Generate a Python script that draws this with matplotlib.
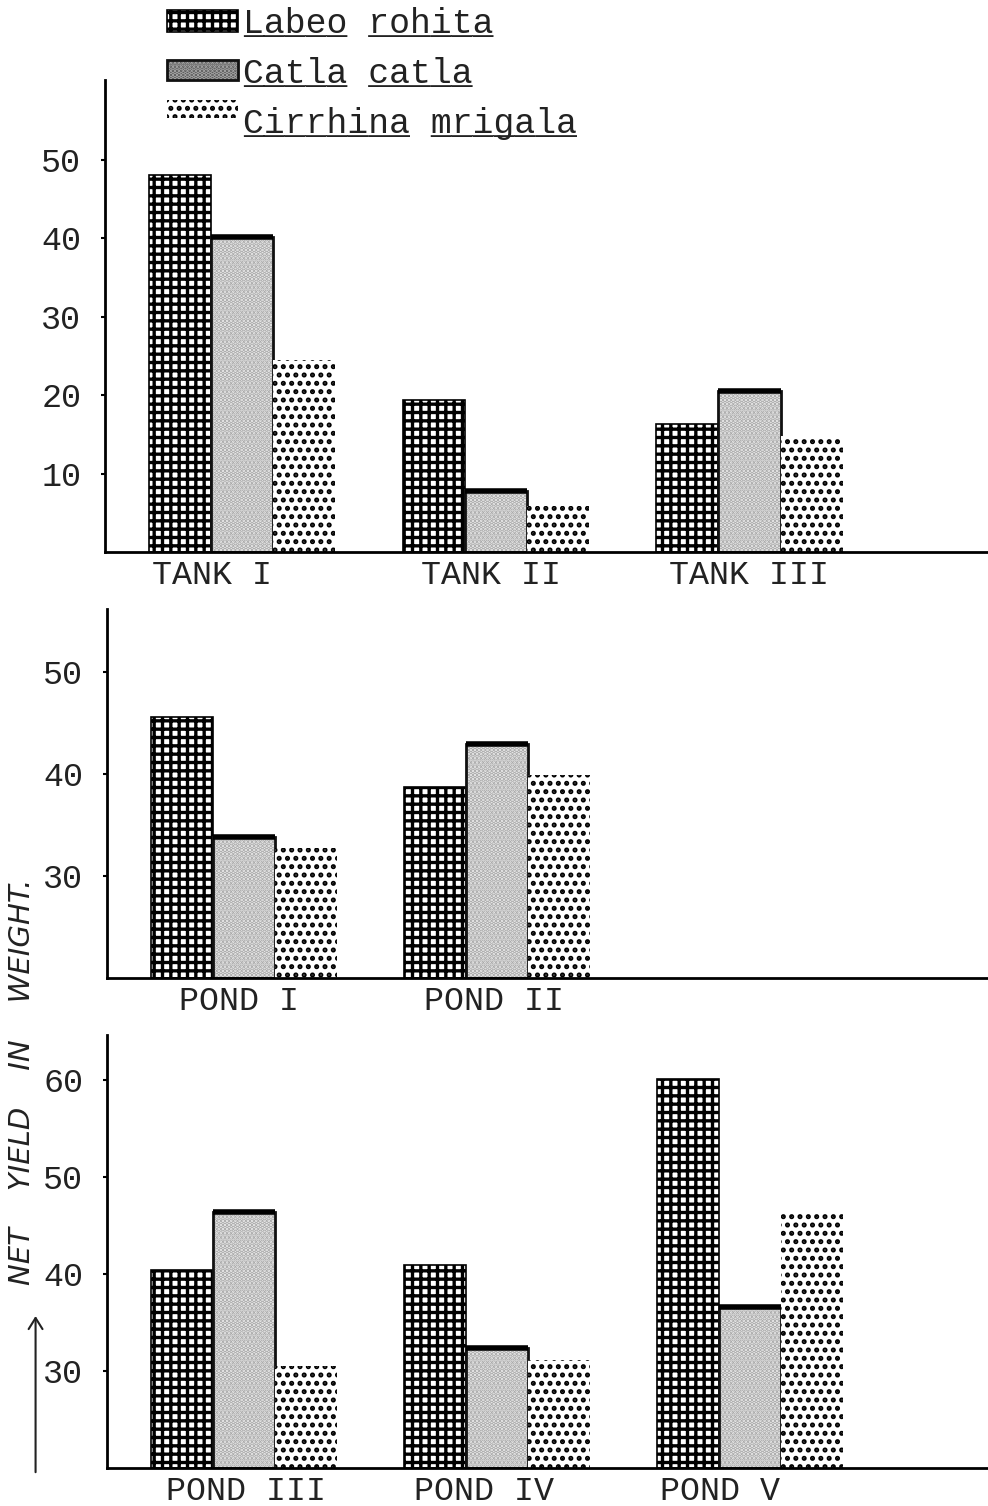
import matplotlib.pyplot as plt
import matplotlib.patches as mpatches
import numpy as np

plt.rcParams['font.family'] = 'Liberation Mono'
plt.rcParams['hatch.linewidth'] = 2.4

species = ['Labeo rohita', 'Catla catla', 'Cirrhina mrigala']
underline = ['_____ ______', '_____ _____', '________ _______']

tanks = ['TANK I', 'TANK II', 'TANK III']
labeo_tank = [48.1, 19.4, 16.3]
catla_tank = [40.2, 7.8, 20.5]
mrigala_tank = [24.5, 5.9, 14.8]

ponds_a = ['POND I', 'POND II']
labeo_pa = [45.6, 38.7]
catla_pa = [33.8, 43.0]
mrigala_pa = [32.8, 39.9]

ponds_b = ['POND III', 'POND IV', 'POND V']
labeo_pb = [40.4, 40.9, 60.1]
catla_pb = [46.4, 32.4, 36.6]
mrigala_pb = [30.5, 31.1, 46.3]

ink = '#222222'
fig = plt.figure(figsize=(9.88, 15.06), dpi=100)


def draw_box(ax_or_fig, k, x, y, w, h, legend=False, **kw):
    # one bar / legend swatch in the style of species k
    add = ax_or_fig.add_patch if hasattr(ax_or_fig, 'add_patch') else ax_or_fig.patches.append
    if k == 0:
        add(mpatches.Rectangle((x, y), w, h, facecolor='white', hatch='++',
                               edgecolor='black', linewidth=1.2, **kw))
    elif k == 1:
        add(mpatches.Rectangle((x, y), w, h,
                               facecolor='#555555' if legend else '#ededed',
                               linewidth=0, **kw))
        add(mpatches.Rectangle((x, y), w, h, facecolor='none', hatch='....',
                               edgecolor='#a8a8a8', linewidth=0, **kw))
        add(mpatches.Rectangle((x, y), w, h, facecolor='none',
                               edgecolor='#111111', linewidth=2.0, **kw))
    else:
        add(mpatches.Rectangle((x, y), w, h, facecolor='white', hatch='..',
                               edgecolor='black', linewidth=0, **kw))


def panel(rect, labels, series, ylim, yticks, label_x):
    ax = fig.add_axes(rect)
    x = np.arange(len(labels))
    w = 0.245
    for k, vals in enumerate(series):
        for xi, v in zip(x, vals):
            left = xi + (k - 1) * w - w / 2
            draw_box(ax, k, left, ylim[0], w, v - ylim[0], zorder=2)
            if k == 1:
                ax.plot([left, left + w], [v, v], color='black', lw=4,
                        solid_capstyle='butt', zorder=3)
    ax.set_xlim(-0.54, 2.94)
    ax.set_ylim(*ylim)
    ax.set_yticks(yticks)
    ax.set_yticklabels([str(t) for t in yticks], fontsize=24, color=ink)
    ax.set_xticks(label_x)
    ax.set_xticklabels(labels, fontsize=24, color=ink)
    ax.tick_params(axis='x', length=0, pad=6)
    ax.tick_params(axis='y', length=3, width=1.5, pad=14)
    for s in ['top', 'right']:
        ax.spines[s].set_visible(False)
    ax.spines['left'].set_linewidth(2)
    ax.spines['bottom'].set_linewidth(2)
    return ax


panel([0.1063, 0.6335, 0.8937, 0.3134], tanks,
      [labeo_tank, catla_tank, mrigala_tank], (0, 60.2),
      [10, 20, 30, 40, 50], [-0.12, 0.98, 2.0])
panel([0.1083, 0.3506, 0.8917, 0.2450], ponds_a,
      [labeo_pa, catla_pa, mrigala_pa], (20, 56.2),
      [30, 40, 50], [-0.02, 0.99])
panel([0.1083, 0.0252, 0.8917, 0.2875], ponds_b,
      [labeo_pb, catla_pb, mrigala_pb], (20, 64.6),
      [30, 40, 50, 60], [0.01, 0.95, 1.88])

# legend drawn by hand at the top left
sw_y = [0.9788, 0.9469, 0.9216]
sw_h = [0.0146, 0.0133, 0.0120]
txt_y = [0.9781, 0.9449, 0.9117]
for k, name in enumerate(species):
    draw_box(fig, k, 0.169, sw_y[k], 0.072, sw_h[k], legend=True,
             transform=fig.transFigure)
    fig.text(0.246, txt_y[k], name, fontsize=25, va='baseline', color=ink)
    fig.text(0.246, txt_y[k], underline[k], fontsize=25, va='baseline', color=ink)

fig.text(0.022, 0.2815, 'NET    YIELD    IN    WEIGHT.', rotation=90,
         family='DejaVu Sans', style='italic', fontsize=21,
         ha='center', va='center', color=ink)
fig.add_artist(mpatches.FancyArrowPatch((0.036, 0.0206), (0.036, 0.128),
               transform=fig.transFigure, arrowstyle='->,head_length=8,head_width=5',
               color=ink, linewidth=1.5))

fig.savefig('out.png', dpi=100)
